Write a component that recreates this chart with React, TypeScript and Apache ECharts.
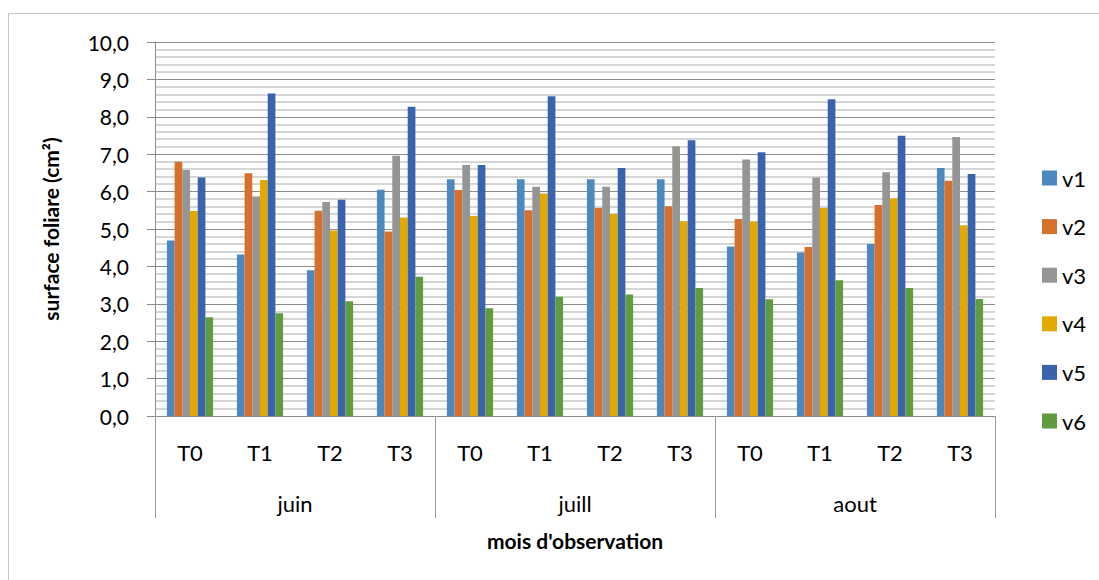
import React, { useEffect, useRef } from "react";
import * as echarts from "echarts";

const periods = ["T0", "T1", "T2", "T3", "T0", "T1", "T2", "T3", "T0", "T1", "T2", "T3"];
const months = ["juin", "juill", "aout"];
const seriesNames = ["v1", "v2", "v3", "v4", "v5", "v6"];
const colors = ["#4d89c0", "#d76f2d", "#959595", "#e3a900", "#3a63ad", "#609b3f"];

const v1 = [4.69, 4.32, 3.9, 6.05, 6.33, 6.33, 6.33, 6.33, 4.53, 4.37, 4.6, 6.63];
const v2 = [6.8, 6.49, 5.49, 4.93, 6.04, 5.5, 5.56, 5.61, 5.27, 4.52, 5.64, 6.29];
const v3 = [6.58, 5.87, 5.72, 6.96, 6.71, 6.13, 6.13, 7.21, 6.86, 6.38, 6.52, 7.46];
const v4 = [5.48, 6.31, 4.96, 5.31, 5.35, 5.95, 5.4, 5.21, 5.2, 5.56, 5.82, 5.1];
const v5 = [6.38, 8.62, 5.78, 8.27, 6.71, 8.55, 6.63, 7.37, 7.05, 8.47, 7.49, 6.47];
const v6 = [2.64, 2.75, 3.07, 3.72, 2.88, 3.19, 3.25, 3.42, 3.12, 3.63, 3.42, 3.13];
const seriesValues = [v1, v2, v3, v4, v5, v6];

const yTitle = "surface foliare (cm²)";
const xTitle = "mois d'observation";

const FONT = 'Lato, "Open Sans", "Noto Sans", sans-serif';

export default function App() {
  const ref = useRef<HTMLDivElement>(null);

  useEffect(() => {
    document.body.style.margin = "0";
    if (!ref.current) return;
    const chart = echarts.init(ref.current, null, { renderer: "svg" });
    const option: any = {
      animation: false,
      backgroundColor: "#ffffff",
      textStyle: { fontFamily: FONT },
      grid: { left: 155, right: 104, top: 42, bottom: 164, containLabel: false },
      legend: {
        orient: "vertical",
        left: 1037,
        top: 162,
        icon: "rect",
        itemWidth: 15,
        itemHeight: 15,
        itemGap: 26.6,
        textStyle: { fontFamily: FONT, fontSize: 22, color: "#000", lineHeight: 15 },
        data: seriesNames,
      },
      xAxis: [
        {
          type: "category",
          data: periods,
          position: "bottom",
          axisLine: { show: true, lineStyle: { color: "#8c8c8c", width: 1 } },
          axisTick: { show: false },
          axisLabel: { interval: 0, margin: 25, fontSize: 22, color: "#000", fontFamily: FONT },
          splitLine: { show: false },
        },
        {
          type: "category",
          data: months,
          position: "bottom",
          boundaryGap: true,
          axisLine: { show: false },
          axisTick: { show: true, interval: 0, length: 102, lineStyle: { color: "#9a9a9a", width: 1 } },
          axisLabel: { interval: 0, margin: 76, fontSize: 22, color: "#000", fontFamily: FONT },
          splitLine: { show: false },
          name: xTitle,
          nameLocation: "middle",
          nameGap: 114,
          nameTextStyle: { fontSize: 21, fontWeight: "bold", color: "#000", fontFamily: FONT },
        },
      ],
      yAxis: {
        type: "value",
        min: 0,
        max: 10,
        interval: 1,
        axisLine: { show: true, lineStyle: { color: "#8c8c8c", width: 1 } },
        axisTick: { show: true, length: 8, lineStyle: { color: "#8c8c8c" } },
        axisLabel: {
          margin: 26,
          fontSize: 21,
          color: "#000",
          fontFamily: FONT,
          formatter: (v: number) => v.toFixed(1).replace(".", ","),
        },
        splitLine: { show: true, lineStyle: { color: "#8c8c8c", width: 1 } },
        minorTick: { show: false, splitNumber: 5 },
        minorSplitLine: { show: true, lineStyle: { color: "#c8c8c8", width: 1.5 } },
        name: yTitle,
        nameLocation: "middle",
        nameGap: 94,
        nameRotate: 90,
        nameTextStyle: { fontSize: 21, fontWeight: "bold", color: "#000", fontFamily: FONT },
      },
      graphic: [
        {
          type: "rect",
          shape: { x: 8.5, y: 13.5, width: 1200, height: 700 },
          style: { fill: "none", stroke: "#c4c4c4", lineWidth: 1 },
          silent: true,
        },
      ],
      series: seriesNames.map((name, i) => ({
        name,
        type: "bar",
        xAxisIndex: 0,
        data: seriesValues[i],
        barGap: "0%",
        barCategoryGap: "34%",
        itemStyle: { color: colors[i] },
      })),
    };
    chart.setOption(option);
    return () => chart.dispose();
  }, []);

  return <div ref={ref} style={{ width: 1099, height: 580 }} />;
}
